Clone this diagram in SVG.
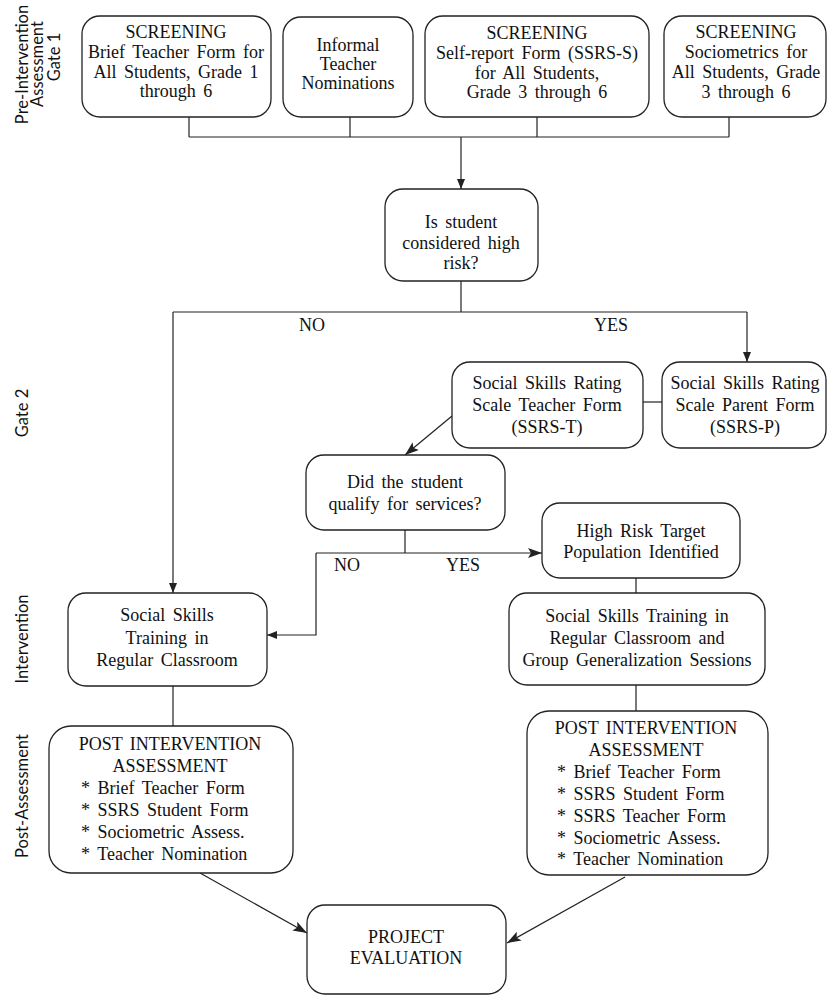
<svg xmlns="http://www.w3.org/2000/svg" width="829" height="996" viewBox="0 0 829 996">
<defs>
<style>
.box{fill:#fff;stroke:#222;stroke-width:1.3}
.ln{fill:none;stroke:#222;stroke-width:1.2}
.t{font-family:"Liberation Serif","Times New Roman",serif;font-size:18px;fill:#111;text-anchor:middle;word-spacing:3px}
.tl{font-family:"Liberation Serif","Times New Roman",serif;font-size:18px;fill:#111;text-anchor:start;word-spacing:3px}
.lab{font-family:Lato,"Open Sans",sans-serif;font-size:16.5px;fill:#111;text-anchor:middle}
</style>
<marker id="ah" markerUnits="userSpaceOnUse" markerWidth="10" markerHeight="8" refX="10" refY="4" orient="auto">
<path d="M0,0 L10,4 L0,8 z" fill="#222"/>
</marker>
<marker id="ahb" markerUnits="userSpaceOnUse" markerWidth="14" markerHeight="10" refX="14" refY="5" orient="auto">
<path d="M0,0 L14,5 L0,10 L3,5 z" fill="#222"/>
</marker>
</defs>
<rect width="829" height="996" fill="#fff"/>

<g id="labels">
<text class="lab" transform="translate(28,64.5) rotate(-90)">Pre-Intervention</text>
<text class="lab" transform="translate(43,64) rotate(-90)">Assessment</text>
<text class="lab" transform="translate(60,57) rotate(-90)">Gate 1</text>
<text class="lab" transform="translate(28,413) rotate(-90)">Gate 2</text>
<text class="lab" transform="translate(28,639) rotate(-90)">Intervention</text>
<text class="lab" transform="translate(28,796) rotate(-90)">Post-Assessment</text>
</g>

<g id="connectors">
<path class="ln" d="M189,117 V137 M350,117 V137 M537,117 V137 M729,117 V137 M189,137 H729"/>
<path class="ln" d="M461,137 V189" marker-end="url(#ah)"/>
<path class="ln" d="M461,281 V312 M173,312 H747"/>
<path class="ln" d="M173,312 V593" marker-end="url(#ah)"/>
<path class="ln" d="M747,312 V362" marker-end="url(#ah)"/>
<path class="ln" d="M643,402 H662"/>
<path class="ln" d="M452,416 L405,455" marker-end="url(#ahb)"/>
<path class="ln" d="M405,530 V553 M316,553 H405"/>
<path class="ln" d="M405,553 H542" marker-end="url(#ahb)"/>
<path class="ln" d="M316,553 V635 H267" marker-end="url(#ah)"/>
<path class="ln" d="M636,578 V593 M636,685 V711 M173,686 V726"/>
<path class="ln" d="M200,873 L307,933" marker-end="url(#ahb)"/>
<path class="ln" d="M625,877 L507,943" marker-end="url(#ahb)"/>
<text class="t" x="312" y="331">NO</text>
<text class="t" x="611" y="331">YES</text>
<text class="t" x="347" y="571">NO</text>
<text class="t" x="463" y="571">YES</text>
</g>

<g id="screen1">
<rect class="box" x="82" y="16" width="189" height="101" rx="18"/>
<text class="t" x="176" y="38">SCREENING</text>
<text class="t" x="176" y="58">Brief Teacher Form for</text>
<text class="t" x="176" y="78">All Students, Grade 1</text>
<text class="t" x="176" y="97">through 6</text>
</g>
<g id="informal">
<rect class="box" x="283" y="17" width="130" height="100" rx="18"/>
<text class="t" x="348" y="51">Informal</text>
<text class="t" x="348" y="70">Teacher</text>
<text class="t" x="348" y="89">Nominations</text>
</g>
<g id="screen2">
<rect class="box" x="425" y="16" width="224" height="101" rx="18"/>
<text class="t" x="537" y="39">SCREENING</text>
<text class="t" x="537" y="59">Self-report Form (SSRS-S)</text>
<text class="t" x="537" y="79">for All Students,</text>
<text class="t" x="537" y="98">Grade 3 through 6</text>
</g>
<g id="screen3">
<rect class="box" x="664" y="16" width="162" height="101" rx="18"/>
<text class="t" x="746" y="38">SCREENING</text>
<text class="t" x="746" y="58">Sociometrics for</text>
<text class="t" x="746" y="78">All Students, Grade</text>
<text class="t" x="746" y="98">3 through 6</text>
</g>

<g id="decision1">
<rect class="box" x="385" y="189" width="153" height="92" rx="18"/>
<text class="t" x="461" y="228">Is student</text>
<text class="t" x="461" y="249">considered high</text>
<text class="t" x="461" y="269">risk?</text>
</g>

<g id="ssrsT">
<rect class="box" x="452" y="362" width="191" height="86" rx="18"/>
<text class="t" x="547" y="389">Social Skills Rating</text>
<text class="t" x="547" y="411">Scale Teacher Form</text>
<text class="t" x="547" y="433">(SSRS-T)</text>
</g>
<g id="ssrsP">
<rect class="box" x="662" y="362" width="164" height="86" rx="18"/>
<text class="t" x="745" y="389">Social Skills Rating</text>
<text class="t" x="745" y="411">Scale Parent Form</text>
<text class="t" x="745" y="433">(SSRS-P)</text>
</g>

<g id="decision2">
<rect class="box" x="306" y="455" width="199" height="75" rx="18"/>
<text class="t" x="405" y="488">Did the student</text>
<text class="t" x="405" y="510">qualify for services?</text>
</g>

<g id="highrisk">
<rect class="box" x="542" y="503" width="198" height="75" rx="18"/>
<text class="t" x="641" y="537">High Risk Target</text>
<text class="t" x="641" y="558">Population Identified</text>
</g>

<g id="trainLeft">
<rect class="box" x="68" y="593" width="199" height="93" rx="18"/>
<text class="t" x="167" y="621">Social Skills</text>
<text class="t" x="167" y="644">Training in</text>
<text class="t" x="167" y="666">Regular Classroom</text>
</g>
<g id="trainRight">
<rect class="box" x="509" y="593" width="256" height="92" rx="18"/>
<text class="t" x="637" y="622">Social Skills Training in</text>
<text class="t" x="637" y="644">Regular Classroom and</text>
<text class="t" x="637" y="666">Group Generalization Sessions</text>
</g>

<g id="postLeft">
<rect class="box" x="49" y="726" width="244" height="147" rx="22"/>
<text class="t" x="170" y="750">POST INTERVENTION</text>
<text class="t" x="170" y="772">ASSESSMENT</text>
<text class="tl" x="81" y="794">* Brief Teacher Form</text>
<text class="tl" x="81" y="816">* SSRS Student Form</text>
<text class="tl" x="81" y="838">* Sociometric Assess.</text>
<text class="tl" x="81" y="860">* Teacher Nomination</text>
</g>
<g id="postRight">
<rect class="box" x="527" y="711" width="241" height="164" rx="22"/>
<text class="t" x="646" y="734">POST INTERVENTION</text>
<text class="t" x="646" y="756">ASSESSMENT</text>
<text class="tl" x="557" y="778">* Brief Teacher Form</text>
<text class="tl" x="557" y="800">* SSRS Student Form</text>
<text class="tl" x="557" y="822">* SSRS Teacher Form</text>
<text class="tl" x="557" y="844">* Sociometric Assess.</text>
<text class="tl" x="557" y="865">* Teacher Nomination</text>
</g>

<g id="project">
<rect class="box" x="307" y="905" width="199" height="89" rx="18"/>
<text class="t" x="406" y="943">PROJECT</text>
<text class="t" x="406" y="964">EVALUATION</text>
</g>
</svg>
